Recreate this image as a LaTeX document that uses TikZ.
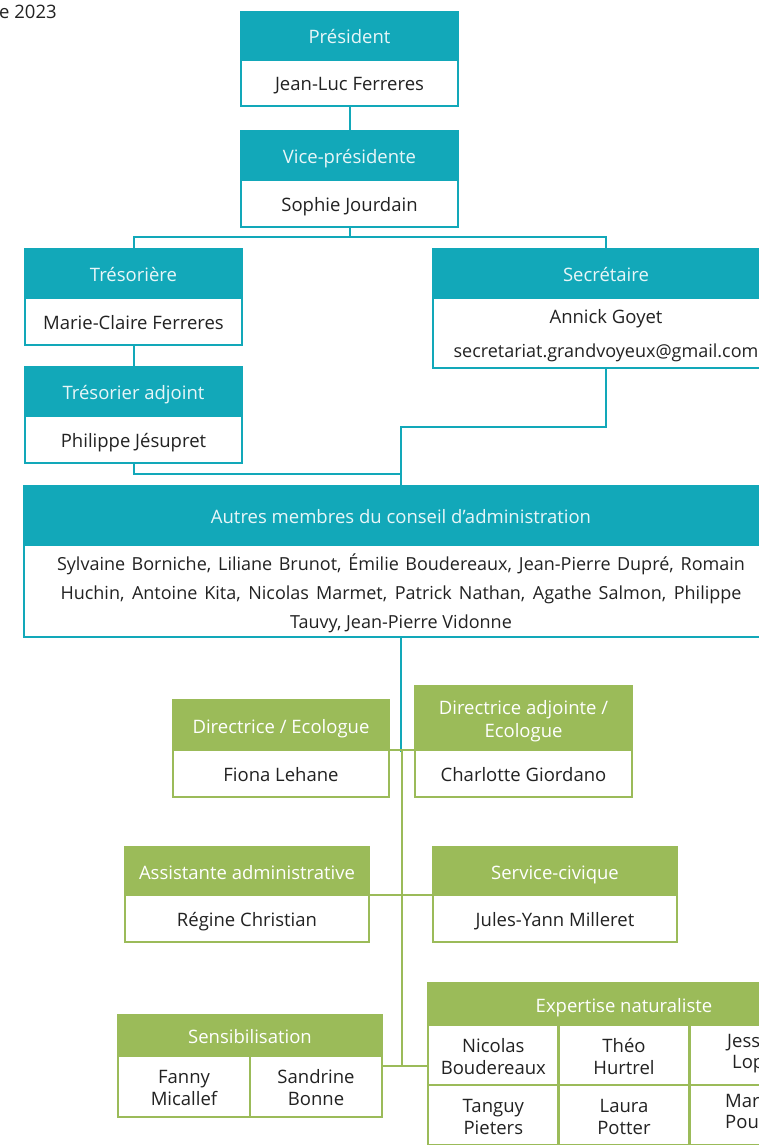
\documentclass[tikz,border=0pt]{standalone}
\usepackage{fontspec}
\setmainfont{Open Sans}
\definecolor{teal1}{RGB}{18,168,185}
\definecolor{green1}{RGB}{155,187,89}
\definecolor{htext}{RGB}{232,246,248}
\definecolor{btext}{RGB}{34,34,34}
\newcommand\mlines[2][3pt]{\raisebox{#1}[0pt][0pt]{\begin{tabular}[t]{@{}c@{}}#2\end{tabular}}}
\begin{document}
\begin{tikzpicture}[x=1pt,y=-1pt,
  base/.style={inner sep=0pt, outer sep=0pt, font=\fontsize{18.5}{22}\selectfont, align=center, line width=2pt, text height=20pt, text depth=4pt},
  multi/.style={text height={}, text depth={}},
  th/.style={base, fill=teal1, draw=teal1, text=htext},
  tb/.style={base, fill=white, draw=teal1, text=btext},
  gh/.style={base, fill=green1, draw=green1, text=white, line width=2.5pt},
  gb/.style={base, fill=white, draw=green1, text=btext, line width=2.5pt},
  tline/.style={draw=teal1, line width=2pt},
  gline/.style={draw=green1, line width=2.5pt},
  plain/.style={inner sep=0pt, font=\fontsize{18.5}{22}\selectfont, text=btext, text height=13pt, text depth=0pt},
]
\useasboundingbox (0,0) rectangle (759,1145);
\clip (0,0) rectangle (759,1145);

\node[plain, anchor=west] (date) at (-1,12) {e 2023};

% Président
\node[th, minimum width=217pt, minimum height=48pt, anchor=north] (pres-h) at (349.5,12) {Président};
\node[tb, minimum width=217pt, minimum height=46pt, anchor=north] (pres-b) at (pres-h.south) {Jean-Luc Ferreres};
% Vice
\node[th, minimum width=217pt, minimum height=49pt, anchor=north] (vice-h) at (349.5,131) {Vice-présidente};
\node[tb, minimum width=217pt, minimum height=47pt, anchor=north] (vice-b) at (vice-h.south) {Sophie Jourdain};
% Trésorière
\node[th, minimum width=217pt, minimum height=49pt, anchor=north] (treso-h) at (133.5,249) {Trésorière};
\node[tb, minimum width=217pt, minimum height=47pt, anchor=north] (treso-b) at (treso-h.south) {Marie-Claire Ferreres};
% Trésorier adjoint
\node[th, minimum width=217pt, minimum height=49pt, anchor=north] (tadj-h) at (133.5,367) {Trésorier adjoint};
\node[tb, minimum width=217pt, minimum height=47pt, anchor=north] (tadj-b) at (tadj-h.south) {Philippe Jésupret};
% Secrétaire
\node[th, minimum width=346pt, minimum height=49pt, anchor=north] (secr-h) at (606,249) {Secrétaire};
\node[tb, multi, minimum width=346pt, minimum height=70pt, anchor=north] (secr-b) at (secr-h.south) {\mlines[10pt]{Annick Goyet\\[12pt]{\fontsize{18}{22}\selectfont secretariat.grandvoyeux@gmail.com}}};
% Autres membres
\node[th, minimum width=754pt, minimum height=59pt, anchor=north] (autres-h) at (401,486) {Autres membres du conseil d’administration};
\node[tb, multi, minimum width=754pt, minimum height=92pt, anchor=north, font=\fontsize{18}{29}\selectfont] (autres-b) at (autres-h.south)
 {\mlines[21pt]{\makebox[688pt][s]{Sylvaine Borniche, Liliane Brunot, Émilie Boudereaux, Jean-Pierre Dupré, Romain}\\
  \makebox[681pt][s]{Huchin, Antoine Kita, Nicolas Marmet, Patrick Nathan, Agathe Salmon, Philippe}\\
  Tauvy, Jean-Pierre Vidonne}};

% Directrices
\node[gh, minimum width=216pt, minimum height=50pt, anchor=north] (dir-h) at (281,700) {Directrice / Ecologue};
\node[gb, minimum width=216pt, minimum height=47pt, anchor=north] (dir-b) at (dir-h.south) {Fiona Lehane};
\node[gh, multi, minimum width=217pt, minimum height=64pt, anchor=north, font=\fontsize{18.5}{23}\selectfont] (diradj-h) at (523.5,686) {\mlines[4pt]{Directrice adjointe /\\Ecologue}};
\node[gb, minimum width=217pt, minimum height=47pt, anchor=north] (diradj-b) at (diradj-h.south) {Charlotte Giordano};
% Assistante / Service civique
\node[gh, minimum width=244pt, minimum height=48pt, anchor=north] (assist-h) at (247,847) {Assistante administrative};
\node[gb, minimum width=244pt, minimum height=47pt, anchor=north] (assist-b) at (assist-h.south) {Régine Christian};
\node[gh, minimum width=244pt, minimum height=48pt, anchor=north] (serv-h) at (555,847) {Service-civique};
\node[gb, minimum width=244pt, minimum height=47pt, anchor=north] (serv-b) at (serv-h.south) {Jules-Yann Milleret};
% Sensibilisation
\node[gh, minimum width=264pt, minimum height=41pt, anchor=north] (sen-h) at (250,1015) {Sensibilisation};
\node[gb, multi, minimum width=132pt, minimum height=61pt, anchor=north west] (sen-1) at (sen-h.south west) {\mlines{Fanny\\Micallef}};
\node[gb, multi, minimum width=132pt, minimum height=61pt, anchor=north west] (sen-2) at (sen-1.north east) {\mlines{Sandrine\\Bonne}};
% Expertise naturaliste
\node[gh, minimum width=392pt, minimum height=42pt, anchor=north] (exp-h) at (624,983) {Expertise naturaliste};
\node[gb, multi, minimum width=130.67pt, minimum height=60pt, anchor=north west] (exp-11) at (exp-h.south west) {\mlines{Nicolas\\Boudereaux}};
\node[gb, multi, minimum width=130.67pt, minimum height=60pt, anchor=north west] (exp-12) at (exp-11.north east) {\mlines{Théo\\Hurtrel}};
\node[gb, multi, minimum width=130.67pt, minimum height=60pt, anchor=north west] (exp-13) at (exp-12.north east) {};
\node[gb, multi, minimum width=130.67pt, minimum height=60pt, anchor=north west] (exp-21) at (exp-11.south west) {\mlines{Tanguy\\Pieters}};
\node[gb, multi, minimum width=130.67pt, minimum height=60pt, anchor=north west] (exp-22) at (exp-21.north east) {\mlines{Laura\\Potter}};
\node[gb, multi, minimum width=130.67pt, minimum height=60pt, anchor=north west] (exp-23) at (exp-22.north east) {};
\node[plain, anchor=west] (j13a) at (727,1041) {Jess};
\node[plain, anchor=west] (j13b) at (732,1062) {Lop};
\node[plain, anchor=west] (j23a) at (725,1101) {Mar};
\node[plain, anchor=west] (j23b) at (725,1122) {Pou};

% junction coordinates
\coordinate (j1) at (349.5,237);
\coordinate (j2) at (401,427);
\coordinate (j3) at (401,474);
\coordinate (j4) at (401,752);
\coordinate (g1) at (402,749);
\coordinate (g2) at (402,1066);

% teal connectors
\draw[tline] (pres-b.south) -- (vice-h.north);
\draw[tline] (vice-b.south) -- (j1) -| (treso-h.north);
\draw[tline] (j1) -| (secr-h.north);
\draw[tline] (treso-b.south) -- (tadj-h.north);
\draw[tline] (secr-b.south) |- (j2) -- (autres-h.north);
\draw[tline] (tadj-b.south) |- (j3);
\draw[tline] (autres-b.south) -- (j4);
% green connectors
\draw[gline] (dir-h.south east) -- (diradj-h.south west);
\draw[gline] (g1) -- (g2);
\draw[gline] (assist-h.south east) -- (serv-h.south west);
\draw[gline] (sen-2.east |- g2) -- (exp-11.west |- g2);
\end{tikzpicture}
\end{document}
